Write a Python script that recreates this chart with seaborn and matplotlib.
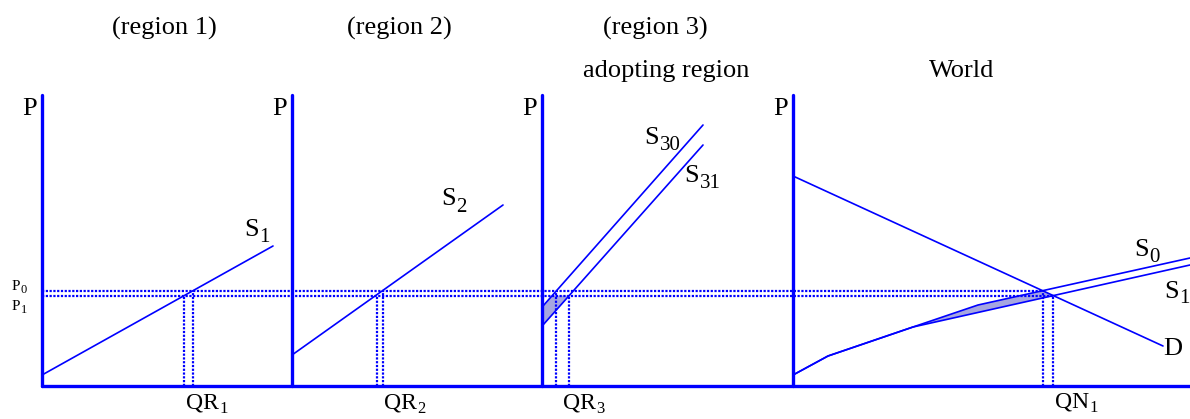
import matplotlib
matplotlib.use("Agg")
import matplotlib.pyplot as plt
import seaborn as sns
import numpy as np

# ---------------- data (panel-local units: quantity right of each P axis, price above Q axis)
panel_titles = ["(region 1)", "(region 2)", "(region 3)", "World"]
price_p0 = 95.0
price_p1 = 90.5

s1_q = [0, 231]
s1_p = [11, 140]
s2_q = [0, 211]
s2_p = [31, 181]
s30_q = [1, 161]
s30_p = [80, 261]
s31_q = [1, 161]
s31_p = [61, 241]
demand_q = [0, 370]
demand_p = [210, 40]
world_s0_q = [0, 35, 120, 185, 397]
world_s0_p = [11, 30, 59, 81, 128]
world_s1_q = [0, 35, 120, 397]
world_s1_p = [11, 30, 59, 121]

# equilibrium quantities: (at P1, at P0) for regions 1, 2 ; (at P0, at P1) for region 3 and world
qr1 = [142, 151]
qr2 = [84.5, 91]
qr3 = [14, 27]
qn1 = [250, 260]

shade3_q = [0, 10, 27, 0]
shade3_p = [79, 90.5, 90.5, 60]
shadew_q = [120, 185, 250, 260, 120]
shadew_p = [59, 81, 95, 90.5, 59]

# ---------------- layout
sns.set_theme(style="white")
plt.rcParams["font.family"] = ["Liberation Serif", "DejaVu Serif"]

BLUE = "#0000ff"
W, H = 1190, 419
BASE = 386  # pixel row of the Q axis
fig = plt.figure(figsize=(W / 100, H / 100), dpi=100)
ax = fig.add_axes([0, 0, 1, 1])
ax.set_xlim(0, W)
ax.set_ylim(BASE - H, BASE)
ax.axis("off")

origins = [42, 292, 542, 793]
axis_top = 291
dot = (0, (1.0, 0.7))


def line(q, p, x0, **kw):
    sns.lineplot(x=np.asarray(q, float) + x0, y=np.asarray(p, float), sort=False,
                 estimator=None, color=BLUE, ax=ax, legend=False, **kw)


# shaded areas
ax.fill(np.asarray(shade3_q) + origins[2], shade3_p, facecolor="#a6a6e0", edgecolor="none", zorder=1)
ax.fill(np.asarray(shadew_q) + origins[3], shadew_p, facecolor="#a6a6e0", edgecolor="none", zorder=1)

# price lines
line([0, qn1[0] + origins[3] - origins[0]], [price_p0, price_p0], origins[0], lw=1.6, linestyle=dot)
line([0, qn1[1] + origins[3] - origins[0]], [price_p1, price_p1], origins[0], lw=1.6, linestyle=dot)

# quantity drop lines
for (qa, qb), x0, (pa, pb) in [
    (qr1, origins[0], (price_p1, price_p0)),
    (qr2, origins[1], (price_p1, price_p0)),
    (qr3, origins[2], (price_p0, price_p1)),
    (qn1, origins[3], (price_p0, price_p1)),
]:
    line([qa, qa], [0, pa], x0, lw=1.6, linestyle=dot)
    line([qb, qb], [0, pb], x0, lw=1.6, linestyle=dot)

# curves
line(s1_q, s1_p, origins[0], lw=1.2)
line(s2_q, s2_p, origins[1], lw=1.2)
line(s30_q, s30_p, origins[2], lw=1.2)
line(s31_q, s31_p, origins[2], lw=1.2)
line(demand_q, demand_p, origins[3], lw=1.2)
line(world_s0_q, world_s0_p, origins[3], lw=1.2)
line(world_s1_q, world_s1_p, origins[3], lw=1.2)

# axes
for x0 in origins:
    line([0, 0], [0, axis_top], x0, lw=2.4)
line([0, W - origins[0]], [0, 0], origins[0], lw=2.4)


# texts (pixel positions)
def txt(x, y, s, size, ha="center"):
    ax.text(x, BASE - y, s, fontsize=size, ha=ha, va="center", color="black")


def sub_label(x, y, main, sub, size, sub_size, drop):
    ax.text(x, BASE - y, main, fontsize=size, ha="right", va="center", color="black")
    ax.text(x + 0.5, BASE - y - drop, sub, fontsize=sub_size, ha="left", va="center", color="black")


txt(164, 28, panel_titles[0], 19)
txt(399, 28, panel_titles[1], 19)
txt(655, 28, panel_titles[2], 19)
txt(666, 71, "adopting region", 19)
txt(962, 71, panel_titles[3], 19)

for x0 in origins:
    txt(x0 - 12, 109, "P", 19)

sub_label(20, 286, "P", "0", 11, 9, 4)
sub_label(20, 306, "P", "1", 11, 9, 4)

sub_label(259, 230, "S", "1", 19, 15, 7)
sub_label(456, 199, "S", "2", 19, 15, 8)
sub_label(659, 138, "S", "30", 19, 15, 8)
sub_label(699, 176, "S", "31", 19, 15, 7)
sub_label(1149, 250, "S", "0", 19, 15, 7)
sub_label(1179, 292, "S", "1", 19, 15, 6)
txt(1173, 349, "D", 19)

sub_label(219, 403, "QR", "1", 17, 12, 6)
sub_label(417, 403, "QR", "2", 17, 12, 6)
sub_label(596, 403, "QR", "3", 17, 12, 6)
sub_label(1089, 402, "QN", "1", 17, 12, 6)

fig.savefig("out.png", dpi=100)
